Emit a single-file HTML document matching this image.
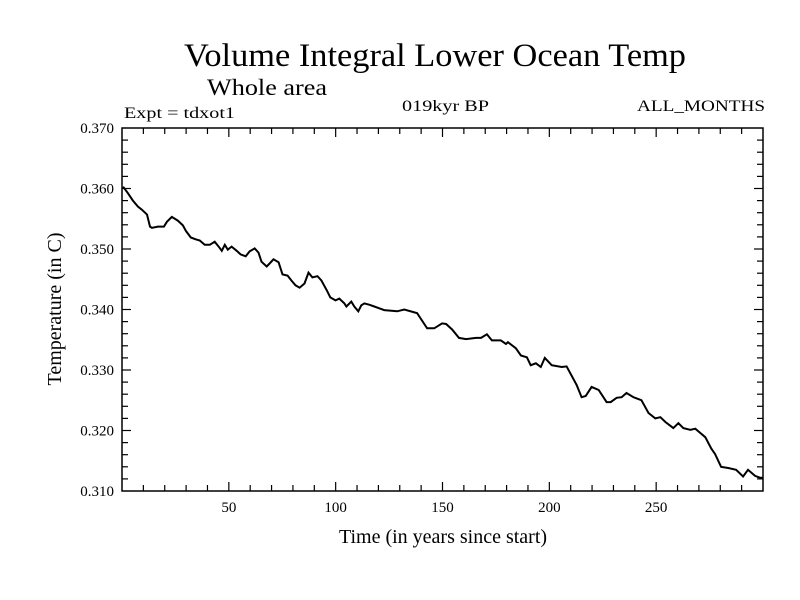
<!DOCTYPE html>
<html><head><meta charset="utf-8"><style>
html,body{margin:0;padding:0;background:#fff;width:800px;height:600px;overflow:hidden}
svg text{font-family:"Liberation Serif",serif;fill:#000}
</style></head><body>
<svg id="chart" width="800" height="600" viewBox="0 0 800 600" xmlns="http://www.w3.org/2000/svg">
<text x="184" y="66" font-size="33" textLength="502" lengthAdjust="spacingAndGlyphs">Volume Integral Lower Ocean Temp</text>
<text x="207" y="95" font-size="23" textLength="120" lengthAdjust="spacingAndGlyphs">Whole area</text>
<text x="124" y="118" font-size="16" textLength="111" lengthAdjust="spacingAndGlyphs">Expt = tdxot1</text>
<text x="402" y="111" font-size="16" textLength="87" lengthAdjust="spacingAndGlyphs">019kyr BP</text>
<text x="637" y="111" font-size="16" textLength="128" lengthAdjust="spacingAndGlyphs">ALL_MONTHS</text>
<rect x="122" y="128" width="641" height="363" fill="none" stroke="#000" stroke-width="1.5"/>
<g id="ticks"></g>
<path id="series" fill="none" stroke="#000" stroke-width="2"/>
<text x="443" y="543" font-size="20" text-anchor="middle">Time (in years since start)</text>
<text transform="translate(61,309) rotate(-90)" font-size="20" text-anchor="middle">Temperature (in C)</text>
</svg>
<script>
const years=[0.5,2.8,5.1,7.5,9.3,11.7,13.1,14.0,16.8,19.6,21.0,23.3,26.1,28.5,29.9,32.2,34.5,36.4,38.7,41.1,43.4,45.7,46.7,48.1,49.5,51.3,53.7,55.5,57.9,59.7,62.1,63.9,65.3,67.7,69.1,70.9,73.3,75.1,77.5,79.3,81.2,83.1,85.4,87.3,89.1,91.5,93.3,96.1,97.5,99.9,101.7,104.1,105.0,107.3,108.7,110.6,112.0,113.4,115.7,118.1,120.4,122.7,128.8,132.1,138.1,142.8,146.1,149.8,151.7,154.5,157.7,161.0,165.7,168.0,170.8,173.1,177.3,179.7,180.6,184.3,186.7,189.5,191.3,193.7,196.0,197.9,201.1,205.8,208.1,210.5,212.8,215.1,217.0,219.8,223.1,226.8,228.7,231.5,233.8,236.1,239.4,243.1,246.4,249.6,252.0,254.3,258.0,260.4,262.7,266.0,268.3,270.6,273.0,275.8,277.6,280.4,283.7,287.4,290.7,293.0,296.3,298.6,300];
const temps=[.3603,.3592,.3580,.3570,.3565,.3557,.3537,.3535,.3537,.3537,.3545,.3553,.3547,.3539,.3530,.3519,.3516,.3514,.3507,.3507,.3512,.3502,.3497,.3507,.3499,.3504,.3497,.3491,.3488,.3496,.3501,.3494,.3479,.3471,.3476,.3483,.3478,.3458,.3456,.3448,.3440,.3436,.3443,.3461,.3453,.3455,.3448,.3430,.3420,.3415,.3418,.3410,.3405,.3413,.3405,.3397,.3407,.3410,.3408,.3405,.3402,.3399,.3397,.3400,.3394,.3369,.3369,.3377,.3376,.3367,.3353,.3351,.3353,.3353,.3359,.3349,.3349,.3343,.3346,.3336,.3324,.3321,.3308,.3311,.3305,.3320,.3308,.3305,.3306,.3290,.3275,.3255,.3257,.3272,.3267,.3247,.3247,.3254,.3255,.3262,.3255,.3250,.3229,.3220,.3222,.3214,.3204,.3212,.3204,.3201,.3203,.3196,.3189,.3170,.3161,.3140,.3138,.3135,.3124,.3135,.3125,.3122,.3122];
const xTicks=[50,100,150,200,250];
const yTicks=[0.310,0.320,0.330,0.340,0.350,0.360,0.370];
const L=122,R=763,T=128,B=491,X0=0,X1=300,Y0=0.310,Y1=0.370;
const sx=v=>L+(v-X0)/(X1-X0)*(R-L);
const sy=v=>B-(v-Y0)/(Y1-Y0)*(B-T);
const NS="http://www.w3.org/2000/svg";
const svg=document.getElementById('chart');
const g=document.getElementById('ticks');
function line(x1,y1,x2,y2,name){const l=document.createElementNS(NS,'line');
l.setAttribute('x1',x1);l.setAttribute('y1',y1);l.setAttribute('x2',x2);l.setAttribute('y2',y2);
l.setAttribute('stroke','#000');l.setAttribute('stroke-width','1.2');


g.appendChild(l);}
function txt(x,y,s,anchor,name){const t=document.createElementNS(NS,'text');
t.setAttribute('x',x);t.setAttribute('y',y);t.setAttribute('font-size','15');t.setAttribute('text-anchor',anchor);t.textContent=s;


svg.appendChild(t);}
for(let v=10;v<300;v+=10){const x=sx(v);const len=(v%50===0)?9:6;
line(x,B,x,B-len,'x-tick');line(x,T,x,T+len,'x-tick-top');}
for(let i=1;i<30;i++){const v=Y0+i*0.002;const y=sy(v);const len=(i%5===0)?9:6;
line(L,y,L+len,y,'y-tick');line(R,y,R-len,y,'y-tick-right');}
xTicks.forEach(v=>txt(sx(v),512,String(v),'middle','x-tick-label'));
yTicks.forEach(v=>txt(114,sy(v)+5,v.toFixed(3),'end','y-tick-label'));
document.getElementById('series').setAttribute('d',years.map((y,i)=>(i?'L':'M')+sx(y).toFixed(1)+','+sy(temps[i]).toFixed(1)).join(''));
</script>
</body></html>
